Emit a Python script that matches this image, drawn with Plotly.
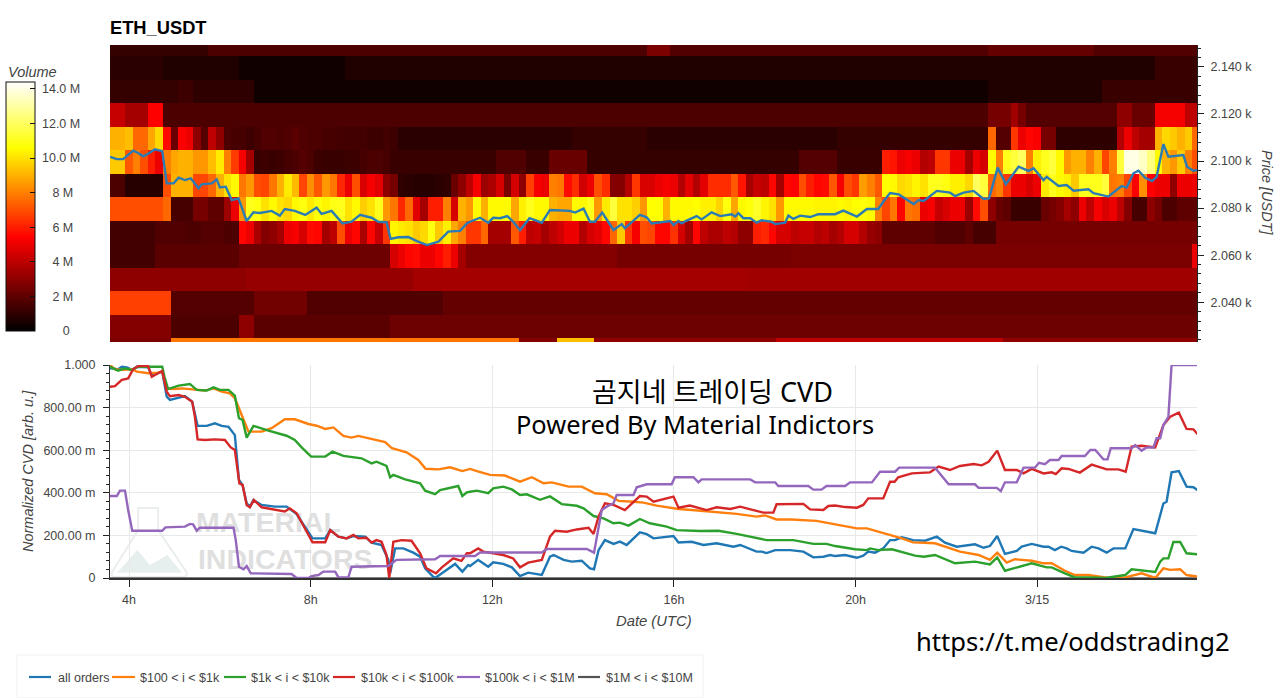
import plotly.graph_objects as go

# ---------- heatmap data: volume (millions) per 10 minute column; (n, v) means n equal cells
price_bins = [2149.6, 2139.6, 2129.6, 2119.6, 2109.6, 2099.6, 2089.6, 2079.6, 2069.6, 2059.6, 2049.6, 2039.6, 2029.6, 2019.6]
vol_2150 = [(13,1.1),(58,1.6),(3,2.6),(42,1.7),(14,2.1),(14,1.7)]
vol_2140 = [(7,0.9),(10,0.7),(14,0.35),(107,0.7),(6,1.2)]
vol_2130 = [(9,1.1),(2,1.3),(8,1.0),(97,0.35),(15,0.7),(13,1.2)]
vol_2120 = [(2,4.2),(3,3.5),(2,5.4),(109,1.6),(3,2.5),(1,3.4),(1,2.5),(12,1.8),(2,3),(3,2.2),(4,5.2),(2,4)]
vol_2110 = [9,9,9.3,7.5,7.5,8.8,9.8,5.6,2.2,5.3,5,3,1.8,4,3,1.6,1.5,1.5,1.3,1.5,1.7,1.7,1.6,1.7,1.9,1.7,1.6,1.6,1.5,1.5,1.4,1.4,1.4,1.4,1.3,1.3,1.4,1.3,
            (23,0.9),(10,1.1),(25,0.9),(20,1.1),7.5,1.8,1.8,6.5,5,5.5,5.3,2.5,2.5,(8,1),3.8,5,4,3.5,3.5,9,9.8,9.5,9,9.5,7.5]
vol_2100 = [9.5,9.5,7.2,8,7,6,5,8,8.8,9,9,8.5,8.5,9.3,10.2,8,6.6,5.2,3.5,1.2,1.3,1.2,1.3,1.5,1.6,1.8,1.6,1.3,1.2,1.2,1.2,1.3,1.3,1.5,1.6,1.6,1.5,
            (14,1.2),(4,1.7),(3,1.2),(5,2.2),(28,1.1),(5,1.8),(6,1.2),6,5.8,5,5.2,5,3.8,4,6.5,6.5,5,5,3.5,5,4.5,10.5,8,11,11.5,12,8,10.3,11,11.5,10.5,8.5,9,9,8,9,6.8,8,11.5,14,14,13.5,12.5,10.5,9,8.5,9.5,8,7]
vol_2090 = [1.6,1.6,0.8,0.8,0.8,0.8,0.8,7,9,9,9,6.8,6.8,7.5,9,10,10.5,7.8,8.5,7,6.8,7.8,9,10.2,9.2,6.8,8.3,7.2,8.5,7.8,6.2,5,7,4.6,5.2,4.8,3,2.5,1,0.9,0.8,0.8,0.8,0.9,1,2.2,3,4,
            5.2,3.3,3.6,4.5,2.6,4.5,3,6.7,5.2,5,8,7.8,5.6,6.3,4.4,5,7,6.3,2.8,2.8,3.8,6.5,4.6,4.6,5,5.2,5,3.8,4.8,3.8,4.8,6.3,6.3,6.3,7.2,5.8,3.5,4.2,4,5.5,3.5,5.5,5.4,7,6,5.5,5.6,7.2,
            5.2,7,6.5,8.6,8,7.2,10.6,10.5,9.8,10,10.4,10,11,11,10.8,10.3,10.3,9.8,12,11.5,7.5,8,6.5,5,5,4.6,5,10.2,11,10.5,10.3,9.5,11,11,11,11.5,7.8,8,6.8,5.4,8.3,5.4,5,5,3,5,5,5]
vol_2080 = [7,7,7,7,7,7,7,7.5,1.5,1.5,1.5,2.5,2.5,2,2,3.3,5,8.5,11,10.8,10,10.5,10,9.8,10.5,10.8,10.2,10.7,10.4,10.9,11,10,10.5,9.6,10,11,8.5,7.8,6.2,7.5,4.8,3.5,6,6,8,4.5,9,8.5,
            10.5,9,10.5,10.5,10.5,8.8,10.3,11,10.5,10.5,9,8.8,8.8,10.5,10.5,11,8.5,10.2,11.5,10,10,9.6,8.5,10.6,10.6,9,10.5,10.5,10.5,10.6,10.3,10.3,9.7,10.8,8.8,10.5,10.7,11.2,10.4,10,8.5,10.5,10.5,10.5,10.5,10.4,10.4,10.4,
            10.5,10.4,10.6,10.7,10.5,8,6.8,7.8,5.5,7.8,7.6,5,5.2,4.2,4.6,5,5,3.3,5.6,7,3,2.2,2,(4,1.2),2.2,2.5,2.8,3.5,3,5,4,5.2,4.6,5,4,2.8,1.5,1.5,3,2.5,1.6,1.6,(3,2)]
vol_2070 = [1.4,1.4,1.4,1.4,1.4,1.4,1.7,1.7,1.7,1.7,1.6,1.6,1.8,1.8,1.8,1.6,1.6,5.5,5,3.6,2.8,3,3.5,5,5.2,4.5,5.6,5.5,3.5,4,7,5,5.5,3.6,5.5,4.2,6.5,10.4,10.2,10,9.5,9.8,10.8,9.5,10.3,8.8,8,
            6.5,6.5,7.5,3.5,3.5,3.5,7.2,6,4,4.2,3.5,4,4.4,5,5,3.8,4.5,4.8,5.5,7.5,9.5,6.5,5.2,7,6.8,5.5,5.5,6.4,4.5,3.5,5.5,4,3.6,3.6,4,3.8,3,3,6,6.2,5.5,4.5,4.5,4,4.2,4.2,3.8,4,3.5,
            3.8,4.5,4.5,3.8,3.2,3,(7,2),(4,1.7),2,(3,1.5),(27,2.5)]
vol_2060 = [(6,1.4),(11,1.9),(20,2.3),4.5,5,5.5,5.6,5,5,5.5,6,5,3.5,(20,2.8),(23,2.5),(53,2.6),5]
vol_2050 = [(18,3.0),(22,3.2),(44,3.5),(60,3.4)]
vol_2040 = [(8,6.7),(11,1.8),(7,2.4),(18,1.7),(100,2.1)]
vol_2030 = [(8,2.8),(9,1.6),(2,3),(18,1.9),(107,2.3)]
vol_2020 = [(8,2.6),(46,7.8),(5,2.8),(5,9.3),(24,3),(30,4),(26,3)]

# ---------- price line (hours, USDT)
price_t = [3.58,3.73,3.87,3.98,4.09,4.20,4.31,4.42,4.57,4.73,4.83,4.98,5.09,5.23,5.36,5.53,5.60,5.82,5.93,6.00,6.13,6.26,6.41,6.59,6.74,6.88,7.14,7.32,7.43,7.65,7.88,8.13,8.24,8.46,8.70,8.90,9.09,9.34,9.49,9.67,9.76,9.93,10.15,10.34,10.56,10.81,11.03,11.29,11.44,
           11.51,11.73,11.91,12.02,12.17,12.33,12.46,12.61,12.82,13.09,13.27,13.46,13.71,13.82,14.01,14.15,14.26,14.42,14.67,14.85,14.92,15.25,15.40,15.51,15.92,15.99,16.10,16.17,16.28,16.50,16.61,16.83,17.02,17.27,17.35,17.42,17.53,17.68,17.82,17.93,18.15,18.23,18.45,18.52,18.63,18.78,19.0,19.18,19.44,
           19.55,19.73,20.03,20.25,20.50,20.61,20.76,20.95,21.28,21.39,21.50,21.79,22.08,22.19,22.38,22.60,22.82,22.94,23.13,23.31,23.59,23.81,23.92,24.14,24.21,24.47,24.65,24.80,25.13,25.24,25.57,25.86,25.97,26.12,26.23,26.38,26.53,26.63,26.78,26.89,27.22,27.30,27.44,27.55]
price_v = [2101.8,2100.8,2100.8,2102.5,2104.4,2103.4,2102.0,2103.1,2105.0,2104.2,2090.5,2090.5,2092.9,2091.9,2092.6,2088.4,2090.1,2090.5,2092.2,2088.8,2089.1,2083.4,2084.1,2074.5,2078.2,2077.9,2078.8,2076.8,2079.6,2078.8,2077.1,2080.2,2077.5,2078.8,2073.5,2074.2,2077.1,2075.9,2074.2,2074.0,2066.9,2067.6,2067.7,2066.0,2064.3,2065.7,2070.0,2070.3,2073.5,
           2074.2,2075.9,2073.8,2075.9,2075.7,2076.6,2074.2,2070.7,2075.7,2073.8,2079.2,2078.9,2078.8,2078.1,2079.8,2074.2,2074.2,2078.1,2070.7,2073.2,2071.4,2077.1,2076.1,2073.5,2074.5,2072.8,2074.5,2073.5,2074.7,2076.6,2075.2,2078.2,2076.6,2077.4,2076.4,2077.8,2075.7,2075.7,2073.8,2074.8,2074.2,2073.2,2073.8,2076.8,2075.4,2076.8,2076.2,2077.4,2077.6,
           2077.4,2078.9,2076.4,2079.6,2079.6,2082.7,2086.4,2085.8,2081.7,2083.4,2083.0,2087.3,2086.6,2085.1,2086.6,2087.3,2083.9,2084.1,2097.2,2090.2,2097.6,2095.8,2096.9,2091.9,2093.3,2089.4,2089.8,2087.4,2088.0,2086.3,2084.9,2089.4,2088.7,2094.8,2095.9,2092.9,2091.5,2093.3,2107.2,2101.8,2102.5,2097.6,2095.9,2096.2]

# ---------- CVD series (hours, normalized)
all_t = [3.58,3.76,3.84,3.95,4.06,4.17,4.42,4.50,4.73,4.83,4.90,5.05,5.23,5.39,5.45,5.51,5.71,5.89,6.04,6.19,6.33,6.42,6.50,6.59,6.66,6.74,6.92,7.21,7.47,7.69,8.04,8.32,8.43,8.61,8.79,8.94,9.20,9.34,9.56,9.71,9.75,9.86,10.04,10.26,10.41,10.52,10.70,10.74,10.89,11.18,11.34,11.47,
         11.51,11.69,11.91,12.02,12.24,12.43,12.61,12.79,13.09,13.27,13.35,13.57,13.75,13.97,14.15,14.24,14.34,14.48,14.67,14.81,14.96,15.25,15.40,15.55,15.99,16.10,16.39,16.65,16.94,17.31,17.46,17.82,17.93,18.04,18.23,18.56,18.85,19.07,19.29,19.44,
         19.55,19.77,20.03,20.17,20.28,20.43,20.61,20.76,20.87,21.02,21.27,21.53,21.79,21.97,22.23,22.45,22.63,22.82,22.96,23.12,23.29,23.55,23.66,23.88,24.14,24.25,24.39,24.53,24.65,24.76,25.02,25.20,25.35,25.53,25.68,25.94,26.12,26.60,26.78,26.85,26.96,27.12,27.29,27.44,27.55]
all_v = [.984,.980,.992,.989,.977,.992,.989,.953,.969,.851,.836,.843,.854,.828,.773,.714,.714,.726,.714,.710,.671,.460,.437,.351,.335,.366,.343,.335,.335,.300,.186,.186,.225,.194,.186,.197,.194,.166,.155,.085,.022,.139,.139,.119,.100,.045,.006,0,.022,.066,.030,.061,
         .056,.085,.053,.074,.066,.050,.009,.025,.014,.100,.108,.085,.077,.081,.045,.041,.131,.178,.160,.171,.155,.214,.206,.186,.197,.167,.170,.155,.163,.147,.155,.124,.124,.117,.131,.131,.124,.097,.100,.108,
         .103,.108,.095,.105,.124,.119,.139,.178,.178,.191,.178,.175,.194,.166,.147,.155,.158,.142,.150,.197,.113,.127,.147,.160,.147,.147,.131,.147,.139,.127,.119,.147,.139,.119,.139,.139,.230,.210,.350,.358,.496,.502,.429,.426,.410]
small_t = [3.58,3.69,3.84,4.06,4.17,4.42,4.64,4.73,4.83,4.94,5.16,5.45,5.67,5.86,6.04,6.22,6.33,6.48,6.63,6.92,7.14,7.43,7.65,7.95,8.13,8.32,8.50,8.72,8.90,9.05,9.34,9.64,9.79,10.11,10.37,10.53,10.81,11.07,11.34,11.44,
           11.51,11.66,11.95,12.28,12.61,12.87,13.13,13.31,13.68,13.97,14.26,14.52,14.78,15.11,15.33,15.62,16.10,16.39,16.72,17.09,17.38,17.82,18.01,18.26,18.59,19.14,19.44,
           19.66,20.03,20.25,20.72,21.02,21.27,21.75,22.30,22.71,22.96,23.12,23.33,23.51,23.88,24.14,24.32,24.61,24.83,25.13,25.57,25.94,26.30,26.60,26.78,26.93,27.15,27.29,27.55]
small_v = [1.0,.980,.977,.980,.969,.961,.964,.969,.890,.887,.890,.886,.880,.890,.875,.867,.844,.765,.687,.687,.703,.745,.745,.723,.715,.700,.707,.667,.659,.667,.651,.638,.609,.590,.554,.513,.510,.520,.502,.510,
           .512,.502,.484,.481,.452,.473,.445,.449,.429,.429,.398,.393,.362,.358,.354,.340,.324,.319,.312,.307,.301,.288,.294,.275,.275,.268,.257,
           .249,.233,.233,.206,.186,.167,.163,.124,.108,.085,.119,.072,.088,.081,.069,.069,.034,.014,.014,0,.003,.022,0,.045,.038,.041,.014,.006]
mid_t = [3.58,3.76,3.91,4.06,4.20,4.73,4.78,4.86,5.09,5.34,5.49,5.71,5.86,6.00,6.19,6.33,6.42,6.50,6.59,6.74,7.07,7.47,7.65,7.80,8.01,8.32,8.48,8.72,9.12,9.34,9.45,9.67,9.75,9.82,10.08,10.41,10.52,10.74,10.85,11.25,11.34,11.44,
         11.51,11.66,11.91,12.02,12.24,12.43,12.61,12.76,13.05,13.27,13.53,13.86,14.01,14.23,14.45,14.67,14.81,15.00,15.25,15.47,15.84,16.06,16.57,16.98,17.38,17.90,18.04,18.63,19.07,19.36,
         19.55,19.99,20.25,20.32,20.50,20.80,21.09,21.31,21.50,21.75,22.19,22.63,22.96,23.12,23.29,23.55,23.88,24.21,24.32,24.61,24.83,25.20,25.50,25.94,26.08,26.60,26.71,26.78,26.89,27.00,27.15,27.29,27.55]
mid_v = [.992,.973,.984,.977,.992,.992,.945,.887,.903,.911,.883,.880,.895,.883,.883,.856,.750,.742,.659,.714,.692,.668,.648,.613,.570,.570,.593,.573,.562,.538,.546,.526,.473,.484,.463,.445,.410,.394,.413,.432,.385,.402,
         .405,.410,.398,.421,.429,.416,.390,.393,.367,.383,.347,.339,.327,.291,.280,.257,.260,.246,.277,.257,.241,.225,.221,.222,.207,.186,.178,.178,.160,.160,
         .150,.135,.131,.139,.131,.135,.119,.105,.100,.108,.069,.077,.064,.097,.034,.050,.069,.050,.050,.022,.003,.003,0,.014,.041,.028,.077,.092,.092,.169,.169,.116,.111]
large_t = [3.58,3.69,3.84,3.98,4.09,4.20,4.42,4.50,4.73,4.83,4.90,5.09,5.23,5.39,5.45,5.51,5.67,5.89,6.11,6.24,6.33,6.43,6.50,6.59,6.66,6.75,6.92,7.21,7.43,7.54,7.69,8.04,8.32,8.43,8.61,8.79,8.94,9.05,9.23,9.34,9.45,9.56,9.67,9.73,9.82,10.00,10.22,10.41,10.55,10.76,10.89,11.14,11.32,11.44,
           11.51,11.69,11.80,12.02,12.24,12.46,12.61,12.79,13.09,13.27,13.38,13.64,13.86,14.12,14.23,14.34,14.48,14.67,14.92,15.25,15.40,15.55,15.99,16.10,16.35,16.72,16.94,17.24,17.46,17.75,17.97,18.19,18.26,18.85,19.00,19.29,19.40,
           19.55,19.77,20.03,20.17,20.28,20.61,20.76,20.86,20.94,21.24,21.64,21.83,22.08,22.30,22.60,22.78,22.93,23.12,23.29,23.55,23.70,23.88,24.14,24.32,24.41,24.54,24.69,24.94,25.20,25.53,25.79,25.95,26.08,26.30,26.60,26.78,26.93,27.12,27.29,27.44,27.55]
large_v = [.898,.901,.930,.937,.980,.995,.995,.945,.972,.875,.854,.859,.851,.828,.757,.651,.648,.651,.648,.613,.601,.444,.437,.343,.332,.366,.332,.322,.312,.327,.304,.168,.168,.225,.194,.186,.202,.186,.189,.166,.178,.170,.108,0,.170,.178,.175,.116,.045,.022,.050,.092,.080,.116,
           .116,.139,.124,.116,.108,.092,.050,.072,.085,.194,.222,.217,.228,.236,.207,.288,.351,.343,.319,.385,.382,.358,.382,.330,.340,.319,.332,.324,.335,.319,.307,.307,.346,.348,.322,.319,.338,
           .340,.333,.330,.343,.374,.374,.452,.452,.473,.491,.496,.523,.507,.526,.535,.529,.546,.598,.507,.507,.491,.512,.491,.496,.488,.515,.512,.495,.532,.510,.510,.499,.617,.621,.613,.718,.757,.776,.700,.698,.671]
whale_t = [3.58,3.73,3.80,3.91,3.98,4.07,4.73,4.80,5.23,5.34,5.41,5.49,5.56,6.30,6.35,6.42,6.52,6.59,6.68,7.58,7.69,7.95,8.02,8.17,8.28,8.54,8.61,8.83,8.90,9.71,9.89,10.74,10.85,11.62,
           11.73,13.09,13.20,14.08,14.24,14.30,14.41,14.52,14.67,14.74,15.11,15.18,15.40,15.95,16.02,16.43,16.54,16.61,17.68,17.79,18.23,18.30,18.96,19.07,19.25,19.36,19.66,
           19.77,19.88,20.36,20.54,20.87,20.96,21.75,22.05,22.63,22.71,23.11,23.20,23.29,23.55,23.70,23.95,24.04,24.17,24.28,24.47,24.54,25.05,25.17,25.28,25.46,25.55,25.62,26.08,26.16,26.30,26.41,26.56,26.63,26.71,26.78,26.89,26.96,27.55]
whale_v = [.385,.385,.410,.410,.319,.222,.222,.238,.241,.254,.252,.222,.236,.236,.178,.053,.041,.056,.022,.019,0,0,.009,.014,.030,.030,.003,.003,.053,.056,.085,.088,.103,.103,
           .120,.120,.136,.136,.119,.194,.319,.335,.351,.390,.390,.426,.440,.440,.473,.473,.449,.463,.463,.449,.449,.432,.432,.415,.415,.432,.432,
           .432,.449,.449,.499,.499,.518,.518,.440,.440,.423,.423,.408,.449,.449,.518,.518,.541,.534,.554,.554,.573,.573,.601,.601,.557,.557,.609,.609,.624,.598,.613,.613,.656,.656,.718,.757,1.0,1.0]
mega_t = [3.58, 27.55]
mega_v = [0, 0]

series_names = ["all orders", "$100 < i < $1k", "$1k < i < $10k", "$10k < i < $100k", "$100k < i < $1M", "$1M < i < $10M"]
series_colors = ["#1f77b4", "#ff7f0e", "#2ca02c", "#d62728", "#9467bd", "#555555"]
series_t = [all_t, small_t, mid_t, large_t, whale_t, mega_t]
series_v = [all_v, small_v, mid_v, large_v, whale_v, mega_v]

vol_rows = [vol_2150, vol_2140, vol_2130, vol_2120, vol_2110, vol_2100, vol_2090, vol_2080, vol_2070, vol_2060, vol_2050, vol_2040, vol_2030, vol_2020]
N_COLS = 144

def expand(row):
    out = []
    for item in row:
        if isinstance(item, tuple):
            out += [item[1]] * item[0]
        else:
            out.append(item)
    out = (out + [out[-1]] * N_COLS)[:N_COLS]
    return [v * 1e6 for v in out]

W, H = 1280, 698
L, R, T, B = 110, 1197, 45, 578
PW, PH = R - L, B - T
def px(x): return (x - L) / PW
def py(y): return (B - y) / PH

XR = [3.58, 27.52]
FONT = "Liberation Sans"
TXT = "#444444"
NB = "\u00a0"

fig = go.Figure()

fig.add_trace(go.Heatmap(
    z=[expand(r) for r in vol_rows], y=price_bins, x0=3.58 + 1/12, dx=1/6,
    xaxis="x", yaxis="y", zmin=0, zmax=14.4e6,
    colorscale=[[0, "#000000"], [0.375, "#ff0000"], [0.736, "#ffff00"], [1, "#ffffff"]],
    colorbar=dict(
        xref="paper", yref="paper", x=px(6), xanchor="left",
        y=py(331), yanchor="bottom", len=249, lenmode="pixels",
        thickness=29, thicknessmode="pixels", xpad=0, ypad=0,
        outlinecolor="#111111", outlinewidth=1,
        tickmode="array", tickvals=[0, 2e6, 4e6, 6e6, 8e6, 10e6, 12e6, 14e6],
        ticktext=[NB*7 + "0", NB*4 + "2 M", NB*4 + "4 M", NB*4 + "6 M", NB*4 + "8 M", NB + "10.0 M", NB + "12.0 M", NB + "14.0 M"],
        ticks="inside", ticklen=5, tickcolor="#111111", tickwidth=1,
        tickfont=dict(family=FONT, size=12.5, color=TXT),
    ),
    hoverinfo="skip",
))
fig.add_trace(go.Scatter(x=price_t, y=price_v, mode="lines", xaxis="x", yaxis="y",
                         line=dict(color="#2b7bb5", width=2.4), showlegend=False))

# watermark text lies under the CVD lines
fig.add_trace(go.Scatter(x=[7.07, 7.44], y=[0.249, 0.075], mode="text", xaxis="x2", yaxis="y2",
                         text=["<b>MATERIAL</b>", "<b>INDICATORS</b>"],
                         textfont=dict(family="Liberation Sans", size=28.5, color="#dfdfdf"),
                         showlegend=False, hoverinfo="skip"))

# the empty largest-size series lies on the zero line, under all the others
draw_order = [5, 0, 1, 2, 3, 4]
for i in draw_order:
    fig.add_trace(go.Scatter(x=series_t[i], y=series_v[i], name=series_names[i], mode="lines", xaxis="x2", yaxis="y2",
                             line=dict(color=series_colors[i], width=1.5 if i == 5 else 2.4), showlegend=False))

annots = [
    dict(text="<i>Volume</i>", x=px(6), y=py(72), xanchor="left", yanchor="middle", font=dict(family=FONT, size=14.5, color=TXT)),
    dict(text="<i>Price [USDT]</i>", x=px(1267), y=py(193), xanchor="center", yanchor="middle", textangle=90, font=dict(family=FONT, size=14.5, color=TXT)),
    dict(text="<i>Normalized CVD [arb. u.]</i>", x=px(28), y=py(471), xanchor="center", yanchor="middle", textangle=-90, font=dict(family=FONT, size=14.5, color=TXT)),
    dict(text="<i>Date (UTC)</i>", x=px(654), y=py(621), xanchor="center", yanchor="middle", font=dict(family=FONT, size=14.8, color=TXT)),
    dict(text="곰지네 트레이딩 CVD", x=px(712), y=py(392), xanchor="center", yanchor="middle", font=dict(family="Noto Sans, Noto Sans CJK KR", size=27, color="#000000")),
    dict(text="Powered By Material Indictors", x=px(695), y=py(424), xanchor="center", yanchor="middle", font=dict(family="Noto Sans", size=25.4, color="#000000")),
    dict(text="https://t.me/oddstrading2", x=px(1073), y=py(641), xanchor="center", yanchor="middle", font=dict(family="Noto Sans", size=25.6, color="#000000")),
]
shapes = [
    # legend frame
    dict(type="rect", xref="paper", yref="paper", x0=px(17), x1=px(703), y0=py(698), y1=py(655), line=dict(color="#efefef", width=1), layer="below"),
    # faded flask logo
    dict(type="path", xref="x2", yref="y2", layer="below", line=dict(color="#ebeeee", width=2), fillcolor="rgba(0,0,0,0)",
         path="M 4.20 .329 L 4.64 .329 L 4.64 .225 L 5.26 .03 Q 5.30 .005 5.2 .005 L 3.7 .005 Q 3.58 .005 3.63 .03 L 4.20 .225 Z"),
    dict(type="path", xref="x2", yref="y2", layer="below", line=dict(width=0), fillcolor="#e6eeee",
         path="M 3.74 .025 L 4.18 .131 L 4.46 .061 L 4.84 .108 L 5.17 .025 Z"),
]
legend_lines = [(29, 51), (112, 135), (224, 246), (333, 355), (457, 480), (578, 600)]
legend_text_x = [55.5, 138, 249, 359, 483, 604]
for name, col, (a, b), tx in zip(series_names, series_colors, legend_lines, legend_text_x):
    shapes.append(dict(type="line", xref="paper", yref="paper", x0=px(a), x1=px(b), y0=py(677), y1=py(677), line=dict(color=col, width=2.2)))
    annots.append(dict(text=name, x=px(tx), y=py(677.5), xanchor="left", yanchor="middle", font=dict(family=FONT, size=12.5, color=TXT)))
for a in annots:
    a.update(xref="paper", yref="paper", showarrow=False)

fig.update_layout(
    width=W, height=H,
    paper_bgcolor="#ffffff", plot_bgcolor="#ffffff",
    margin=dict(l=L, r=W-R, t=T, b=H-B, pad=0, autoexpand=False),
    showlegend=False,
    title=dict(text="<b>ETH_USDT</b>", x=L/W, xanchor="left", y=(H-28)/H, yanchor="middle",
               font=dict(family=FONT, size=18.3, color="#000000")),
    font=dict(family=FONT, size=12.5, color=TXT),
    annotations=annots, shapes=shapes,
    xaxis=dict(domain=[0, 1], range=XR, anchor="y", showticklabels=False, showgrid=False, ticks="", zeroline=False, showline=False),
    yaxis=dict(domain=[(B-342)/PH, 1], range=[2023.1, 2149.3], side="right", anchor="x",
               tickmode="array", tickvals=[2040, 2060, 2080, 2100, 2120, 2140],
               ticktext=["2.040 k", "2.060 k", "2.080 k", "2.100 k", "2.120 k", "2.140 k"],
               ticks="outside", ticklen=6, tickcolor="#222222", showgrid=False, zeroline=False,
               showline=True, linecolor="#222222", linewidth=1, ticklabelstandoff=4,
               minor=dict(tickmode="linear", tick0=2020, dtick=4, ticks="outside", ticklen=3, tickcolor="#222222"),
               tickfont=dict(family=FONT, size=12.5, color=TXT)),
    xaxis2=dict(domain=[0, 1], range=XR, anchor="y2", tickmode="array", tickvals=[4, 8, 12, 16, 20, 24],
                ticktext=["4h", "8h", "12h", "16h", "20h", "3/15"],
                ticks="outside", ticklen=7, tickcolor="#222222", ticklabelstandoff=2,
                showline=True, linecolor="#333333", linewidth=1.5,
                showgrid=True, gridcolor="#e8e8e8", gridwidth=1.2, zeroline=False,
                tickfont=dict(family=FONT, size=12.5, color=TXT)),
    yaxis2=dict(domain=[0, (B-365)/PH], range=[0, 1], anchor="x2", tickmode="array",
                tickvals=[0, .2, .4, .6, .8, 1],
                ticktext=["0", "200.00 m", "400.00 m", "600.00 m", "800.00 m", "1.000"],
                ticks="outside", ticklen=6, tickcolor="#222222", ticklabelstandoff=5,
                showline=True, linecolor="#333333", linewidth=1,
                showgrid=True, gridcolor="#e8e8e8", gridwidth=1.2, zeroline=False,
                minor=dict(tickmode="linear", tick0=0, dtick=.04, ticks="outside", ticklen=3, tickcolor="#222222"),
                tickfont=dict(family=FONT, size=12.5, color=TXT)),
)

fig.write_html("out.html", config={"displayModeBar": False},
               post_script="document.body.style.margin='0';document.documentElement.style.overflow='hidden';")
